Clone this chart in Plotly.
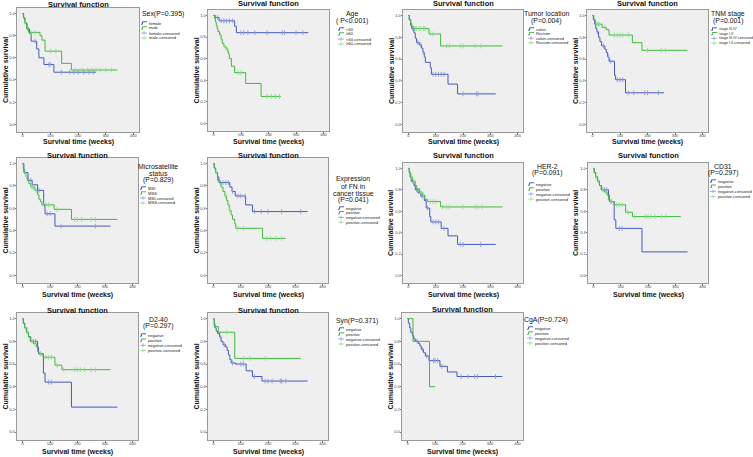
import plotly.graph_objects as go

W, H = 753, 457
BLUE, GREEN = "#4659bd", "#3dbb3d"
BLUE_C, GREEN_C = "#8d9ae0", "#8fdc8f"
FONT = "Arial, Liberation Sans, sans-serif"

# ---------------- data (time in weeks, cumulative survival) ----------------
sex_female_t = [0, 4, 9, 16, 25, 31, 51, 59, 77, 113]
sex_female_s = [1.0, 0.96, 0.91, 0.86, 0.82, 0.75, 0.68, 0.60, 0.54, 0.47]
sex_female_end = 265
sex_female_c = [20, 45, 95, 100, 140, 170, 185, 200, 220, 240, 255]
sex_male_t = [0, 3, 8, 15, 22, 63, 70, 81, 141, 176]
sex_male_s = [1.0, 0.96, 0.92, 0.87, 0.83, 0.80, 0.76, 0.66, 0.55, 0.49]
sex_male_end = 342
sex_male_c = [10, 30, 45, 100, 120, 190, 215, 235, 250, 265, 280, 300, 320]

age_lt60_t = [0, 6, 20, 77, 83]
age_lt60_s = [1.0, 0.98, 0.95, 0.90, 0.84]
age_lt60_end = 345
age_lt60_c = [15, 28, 38, 48, 58, 70, 100, 110, 125, 150, 195, 250, 258, 300, 325]
age_ge60_t = [0, 4, 7, 10, 13, 16, 22, 28, 32, 38, 44, 50, 55, 58, 65, 77, 117, 173]
age_ge60_s = [1.0, 0.97, 0.94, 0.91, 0.88, 0.85, 0.82, 0.78, 0.74, 0.71, 0.70, 0.67,
              0.64, 0.60, 0.53, 0.47, 0.37, 0.25]
age_ge60_end = 245
age_ge60_c = [25, 45, 52, 90, 100, 195, 210, 225, 240]

loc_colon_t = [0, 3, 8, 12, 20, 25, 30, 40, 48, 53, 58, 62, 80, 84, 145, 180]
loc_colon_s = [1.0, 0.96, 0.91, 0.88, 0.84, 0.79, 0.75, 0.73, 0.70, 0.66, 0.62, 0.57,
               0.52, 0.46, 0.37, 0.28]
loc_colon_end = 320
loc_colon_c = [15, 35, 45, 55, 90, 100, 110, 120, 130, 200, 250, 255]
loc_rectum_t = [0, 3, 8, 12, 20, 75, 118]
loc_rectum_s = [1.0, 0.96, 0.93, 0.90, 0.88, 0.83, 0.72]
loc_rectum_end = 345
loc_rectum_c = [25, 30, 38, 45, 55, 60, 80, 90, 140, 150, 190, 200, 245, 265]

tnm_34_t = [0, 3, 8, 12, 16, 22, 27, 33, 45, 50, 55, 60, 80, 84, 120]
tnm_34_s = [1.0, 0.96, 0.92, 0.88, 0.85, 0.80, 0.76, 0.72, 0.69, 0.66, 0.62, 0.58,
            0.45, 0.41, 0.29]
tnm_34_end = 260
tnm_34_c = [18, 40, 58, 65, 90, 100, 110, 130, 150, 190, 200, 240]
tnm_12_t = [0, 5, 10, 35, 50, 60, 145, 180]
tnm_12_s = [1.0, 0.96, 0.92, 0.89, 0.87, 0.82, 0.75, 0.68]
tnm_12_end = 345
tnm_12_c = [15, 20, 25, 45, 80, 90, 100, 110, 130, 200, 250, 265]

ms_msi_t = [0, 5, 20, 35, 55, 77, 82, 118]
ms_msi_s = [1.0, 0.92, 0.85, 0.81, 0.76, 0.63, 0.55, 0.44]
ms_msi_end = 320
ms_msi_c = [30, 60, 90, 100, 140, 265]
ms_mss_t = [0, 3, 8, 13, 18, 23, 30, 45, 55, 60, 65, 70, 115, 178]
ms_mss_s = [1.0, 0.95, 0.91, 0.88, 0.85, 0.82, 0.79, 0.76, 0.72, 0.68, 0.66, 0.63,
            0.59, 0.50]
ms_mss_end = 345
ms_mss_c = [10, 15, 35, 40, 50, 75, 85, 95, 125, 190, 200, 215, 250, 265]

fn_neg_t = [0, 3, 8, 15, 20, 60, 68, 80, 118, 143]
fn_neg_s = [1.0, 0.96, 0.92, 0.88, 0.83, 0.79, 0.75, 0.71, 0.63, 0.57]
fn_neg_end = 345
fn_neg_c = [25, 35, 45, 55, 70, 90, 100, 115, 150, 175, 200, 250, 320]
fn_pos_t = [0, 3, 8, 15, 22, 28, 35, 42, 48, 53, 58, 65, 70, 78, 82, 180]
fn_pos_s = [1.0, 0.96, 0.92, 0.85, 0.83, 0.79, 0.75, 0.71, 0.67, 0.63, 0.58, 0.54,
            0.50, 0.46, 0.42, 0.33]
fn_pos_end = 265
fn_pos_c = [10, 45, 60, 90, 110, 195, 210, 230, 250]

her_neg_t = [0, 3, 6, 10, 20, 25, 35, 45, 58, 65, 78, 82, 120, 145, 180]
her_neg_s = [1.0, 0.96, 0.92, 0.88, 0.84, 0.80, 0.77, 0.74, 0.70, 0.63, 0.55, 0.50,
             0.44, 0.37, 0.29]
her_neg_end = 320
her_neg_c = [15, 30, 50, 70, 90, 100, 110, 130, 190, 200, 265]
her_pos_t = [0, 3, 8, 15, 25, 30, 40, 50, 60, 70, 118]
her_pos_s = [1.0, 0.96, 0.92, 0.88, 0.84, 0.81, 0.78, 0.75, 0.71, 0.69, 0.64]
her_pos_end = 345
her_pos_c = [12, 20, 45, 55, 80, 90, 100, 125, 140, 150, 200, 245, 255, 270]

cd31_neg_t = [0, 3, 8, 15, 22, 30, 55, 58, 76, 82, 178]
cd31_neg_s = [1.0, 0.96, 0.92, 0.88, 0.84, 0.80, 0.75, 0.69, 0.52, 0.44, 0.22]
cd31_neg_end = 345
cd31_neg_c = [40, 48, 65, 95, 105]
cd31_pos_t = [0, 3, 8, 15, 22, 28, 40, 50, 55, 60, 75, 118, 143]
cd31_pos_s = [1.0, 0.96, 0.92, 0.88, 0.84, 0.80, 0.78, 0.75, 0.71, 0.69, 0.66, 0.59, 0.55]
cd31_pos_end = 320
cd31_pos_c = [10, 18, 35, 45, 65, 85, 95, 105, 125, 150, 190, 200, 210, 225, 250, 265]

d240_neg_t = [0, 3, 8, 15, 22, 30, 55, 58, 76, 82, 178]
d240_neg_s = [1.0, 0.96, 0.92, 0.88, 0.84, 0.80, 0.75, 0.69, 0.52, 0.44, 0.22]
d240_neg_end = 345
d240_neg_c = [40, 48, 65, 95, 105]
d240_pos_t = [0, 3, 8, 15, 22, 28, 40, 50, 55, 60, 75, 118, 143]
d240_pos_s = [1.0, 0.96, 0.92, 0.88, 0.84, 0.80, 0.78, 0.75, 0.71, 0.69, 0.66, 0.59, 0.55]
d240_pos_end = 320
d240_pos_c = [10, 18, 35, 45, 65, 85, 95, 105, 125, 150, 190, 200, 210, 225, 250, 265]

syn_neg_t = [0, 3, 6, 10, 15, 22, 28, 35, 45, 50, 55, 60, 65, 80, 120, 143, 178]
syn_neg_s = [1.0, 0.95, 0.92, 0.89, 0.87, 0.84, 0.80, 0.77, 0.75, 0.72, 0.68, 0.64,
             0.61, 0.60, 0.54, 0.49, 0.45]
syn_neg_end = 345
syn_neg_c = [25, 40, 70, 100, 110, 150, 190, 200, 215, 245, 250, 265]
syn_pos_t = [0, 3, 18, 78]
syn_pos_s = [1.0, 0.93, 0.88, 0.65]
syn_pos_end = 320
syn_pos_c = [50, 110, 135, 190]

cga_neg_t = [0, 3, 8, 12, 18, 22, 30, 40, 45, 50, 58, 65, 78, 118, 145, 180]
cga_neg_s = [1.0, 0.96, 0.92, 0.88, 0.85, 0.82, 0.80, 0.78, 0.76, 0.73, 0.70, 0.67,
             0.63, 0.58, 0.53, 0.49]
cga_neg_end = 345
cga_neg_c = [25, 35, 55, 70, 95, 100, 110, 125, 195, 220, 245, 255, 320]
cga_pos_t = [0, 20, 80]
cga_pos_s = [1.0, 0.80, 0.40]
cga_pos_end = 100
cga_pos_c = []

x_ticks = [0, 100, 200, 300, 400]
y_ticks = [0.0, 0.2, 0.4, 0.6, 0.8, 1.0]
y_ticktext = ["0.0", "0.2", "0.4", "0.6", "0.8", "1.0"]

# ---------------- panels: box px (x0,x1,y0,y1), title/xlabel y, legend spec, groups ----------------
panels = [
    dict(box=(17, 139, 8, 132), hy=5, ly=142.5, title=["Sex(P=0.395)"], tx=141, talign="left",
         ty=14, ey=23, dy=5, sx=141, fs=4.1,
         labels=["female", "male", "female-censored", "male-censored"],
         g1=(sex_female_t, sex_female_s, sex_female_end, sex_female_c),
         g2=(sex_male_t, sex_male_s, sex_male_end, sex_male_c)),
    dict(box=(208, 329, 10, 131), hy=4, ly=142, title=["Age", "( P<0.001)"], tx=352,
         talign="center", ty=14, ey=29, dy=5, sx=338, fs=4.1,
         labels=["<60", "≥60", "<60-censored", "≥60-censored"],
         g1=(age_lt60_t, age_lt60_s, age_lt60_end, age_lt60_c),
         g2=(age_ge60_t, age_ge60_s, age_ge60_end, age_ge60_c)),
    dict(box=(403, 523, 10, 132), hy=4, ly=142.5, title=["Tumor location", "(P=0.004)"], tx=546,
         talign="center", ty=14, ey=29, dy=4.6, sx=528, fs=4.1,
         labels=["colon", "Rectum", "colon-censored", "Rectum-censored"],
         g1=(loc_colon_t, loc_colon_s, loc_colon_end, loc_colon_c),
         g2=(loc_rectum_t, loc_rectum_s, loc_rectum_end, loc_rectum_c)),
    dict(box=(587, 708, 10, 132), hy=4, ly=142.5, title=["TNM stage", "(P=0.001)"], tx=728,
         talign="center", ty=14, ey=29, dy=4.7, sx=711, fs=3.7,
         labels=["stage III-IV", "stage I-II", "stage III-IV-censored", "stage I-II-censored"],
         g1=(tnm_34_t, tnm_34_s, tnm_34_end, tnm_34_c),
         g2=(tnm_12_t, tnm_12_s, tnm_12_end, tnm_12_c)),
    dict(box=(17, 138, 158, 283), hy=156, ly=295, title=["Microsatellite", "status", "(P=0.829)"],
         tx=158, talign="center", ty=166, ey=188, dy=5, sx=140, fs=4.1,
         labels=["MSI", "MSS", "MSI-censored", "MSS-censored"],
         g1=(ms_msi_t, ms_msi_s, ms_msi_end, ms_msi_c),
         g2=(ms_mss_t, ms_mss_s, ms_mss_end, ms_mss_c)),
    dict(box=(208, 328, 158, 283), hy=156, ly=295,
         title=["Expression", "of FN in", "cancer tissue", "(P=0.041)"],
         tx=353, talign="center", ty=179, ey=208, dy=4.7, sx=338, fs=4.1,
         labels=["negative", "positive", "negative-censored", "positive-censored"],
         g1=(fn_neg_t, fn_neg_s, fn_neg_end, fn_neg_c),
         g2=(fn_pos_t, fn_pos_s, fn_pos_end, fn_pos_c)),
    dict(box=(403, 523, 163, 283), hy=156, ly=295, title=["HER-2", "(P=0.091)"], tx=547,
         talign="center", ty=166, ey=184, dy=5, sx=528, fs=4.1,
         labels=["negative", "positive", "negative-censored", "positive-censored"],
         g1=(her_neg_t, her_neg_s, her_neg_end, her_neg_c),
         g2=(her_pos_t, her_pos_s, her_pos_end, her_pos_c)),
    dict(box=(588, 708, 163, 283), hy=156, ly=295, title=["CD31", "(P=0.297)"], tx=723,
         talign="center", ty=166, ey=181, dy=5.2, sx=710, fs=4.1,
         labels=["negative", "positive", "negative-censored", "positive-censored"],
         g1=(cd31_neg_t, cd31_neg_s, cd31_neg_end, cd31_neg_c),
         g2=(cd31_pos_t, cd31_pos_s, cd31_pos_end, cd31_pos_c)),
    dict(box=(17, 138, 313, 440), hy=310, ly=451.5, title=["D2-40", "(P=0.297)"], tx=158,
         talign="center", ty=319, ey=335, dy=5.2, sx=140, fs=4.1,
         labels=["negative", "positive", "negative-censored", "positive-censored"],
         g1=(d240_neg_t, d240_neg_s, d240_neg_end, d240_neg_c),
         g2=(d240_pos_t, d240_pos_s, d240_pos_end, d240_pos_c)),
    dict(box=(208, 328, 313, 440), hy=310, ly=451.5, title=["Syn(P=0.371)"], tx=335,
         talign="left", ty=321, ey=329, dy=5, sx=338, fs=4.1,
         labels=["negative", "positive", "negative-censored", "positive-censored"],
         g1=(syn_neg_t, syn_neg_s, syn_neg_end, syn_neg_c),
         g2=(syn_pos_t, syn_pos_s, syn_pos_end, syn_pos_c)),
    dict(box=(402, 523, 313, 440), hy=309, ly=451.5, title=["CgA(P=0.724)"], tx=523,
         talign="left", ty=320, ey=328, dy=5, sx=527, fs=4.1,
         labels=["negative", "positive", "negative-censored", "positive-censored"],
         g1=(cga_neg_t, cga_neg_s, cga_neg_end, cga_neg_c),
         g2=(cga_pos_t, cga_pos_s, cga_pos_end, cga_pos_c)),
]


def px(x):
    return x / W


def py(y):
    return 1 - y / H


def step_at(t, s, x):
    v = s[0]
    for ti, si in zip(t, s):
        if ti <= x:
            v = si
    return v


fig = go.Figure()
annotations = []
shapes = []
layout = {}

for i, p in enumerate(panels, start=1):
    x0, x1, y0, y1 = p["box"]
    xa = "x" if i == 1 else f"x{i}"
    ya = "y" if i == 1 else f"y{i}"
    for (t, s, end, c), col, ccol in ((p["g1"], BLUE, BLUE_C), (p["g2"], GREEN, GREEN_C)):
        fig.add_trace(go.Scatter(x=list(t) + [end], y=list(s) + [s[-1]], mode="lines",
                                 line=dict(color=col, width=1, shape="hv"),
                                 xaxis=xa, yaxis=ya, showlegend=False, hoverinfo="skip"))
        if c:
            fig.add_trace(go.Scatter(x=c, y=[step_at(t, s, v) for v in c], mode="markers",
                                     marker=dict(symbol="line-ns", size=3.5,
                                                 line=dict(color=ccol, width=0.9)),
                                     xaxis=xa, yaxis=ya, showlegend=False, hoverinfo="skip"))
    axx = dict(domain=[px(x0), px(x1)], anchor=ya, range=[-20, 420], tickvals=x_ticks,
               tickfont=dict(size=4, color="#444"), ticks="outside", ticklen=1.5, tickwidth=0.6,
               tickcolor="#777", showline=True, mirror=True, linecolor="#9a9a9a", linewidth=1,
               showgrid=False, zeroline=False, fixedrange=True, automargin=False,
               ticklabelstandoff=-2)
    axy = dict(domain=[py(y1), py(y0)], anchor=xa, range=[-0.07, 1.05], tickvals=y_ticks,
               ticktext=y_ticktext, tickfont=dict(size=4, color="#444"), ticks="outside",
               ticklen=1.5, tickwidth=0.6, tickcolor="#777", showline=True, mirror=True,
               linecolor="#9a9a9a", linewidth=1, showgrid=False, zeroline=False,
               fixedrange=True, automargin=False, ticklabelstandoff=-1)
    layout["xaxis" if i == 1 else f"xaxis{i}"] = axx
    layout["yaxis" if i == 1 else f"yaxis{i}"] = axy

    cx = (x0 + x1) / 2
    cy = (y0 + y1) / 2
    annotations.append(dict(text="<b>Survival function</b>", x=px(cx), y=py(p["hy"]),
                            xref="paper", yref="paper", showarrow=False, xanchor="center",
                            yanchor="middle", font=dict(size=7.5, color="#111", family=FONT)))
    annotations.append(dict(text="<b>Cumulative survival</b>", x=px(x0 - 12), y=py(cy),
                            xref="paper", yref="paper", showarrow=False, textangle=-90,
                            xanchor="center", yanchor="middle",
                            font=dict(size=7, color="#111", family=FONT)))
    annotations.append(dict(text="<b>Survival time (weeks)</b>", x=px(cx), y=py(p["ly"]),
                            xref="paper", yref="paper", showarrow=False, xanchor="center",
                            yanchor="middle", font=dict(size=7, color="#111", family=FONT)))
    # legend title
    for k, line in enumerate(p["title"]):
        annotations.append(dict(text=line, x=px(p["tx"]), y=py(p["ty"] + 7 * k),
                                xref="paper", yref="paper", showarrow=False, borderpad=0,
                                xanchor="center" if p["talign"] == "center" else "left",
                                yanchor="middle", font=dict(size=6.9, color="#111", family=FONT)))
    # legend entries
    sx = p["sx"]
    for k, lab in enumerate(p["labels"]):
        ey = p["ey"] + p["dy"] * k
        col = [BLUE, GREEN, BLUE_C, GREEN_C][k]
        if k < 2:
            path = (f"M {px(sx)},{py(ey + 1.2)} L {px(sx + 1.5)},{py(ey + 1.2)} "
                    f"L {px(sx + 1.5)},{py(ey - 1.2)} L {px(sx + 6)},{py(ey - 1.2)}")
            shapes.append(dict(type="path", path=path, xref="paper", yref="paper",
                               line=dict(color=col, width=1)))
        else:
            shapes.append(dict(type="line", x0=px(sx), x1=px(sx + 6), y0=py(ey), y1=py(ey),
                               xref="paper", yref="paper", line=dict(color=col, width=0.8)))
            shapes.append(dict(type="line", x0=px(sx + 3), x1=px(sx + 3), y0=py(ey - 1.8),
                               y1=py(ey + 1.8), xref="paper", yref="paper",
                               line=dict(color=col, width=0.8)))
        annotations.append(dict(text=lab, x=px(sx + 6.5), y=py(ey), xref="paper", yref="paper",
                                showarrow=False, xanchor="left", yanchor="middle", borderpad=0,
                                font=dict(size=p["fs"], color="#222", family=FONT)))

fig.update_layout(width=W, height=H, margin=dict(l=0, r=0, t=0, b=0, autoexpand=False),
                  paper_bgcolor="white", plot_bgcolor="#efefef",
                  font=dict(family=FONT), annotations=annotations, shapes=shapes,
                  showlegend=False, **layout)
fig.write_html("out.html", config={"displayModeBar": False},
               post_script="document.body.style.margin='0px';document.body.style.overflow='hidden';")
